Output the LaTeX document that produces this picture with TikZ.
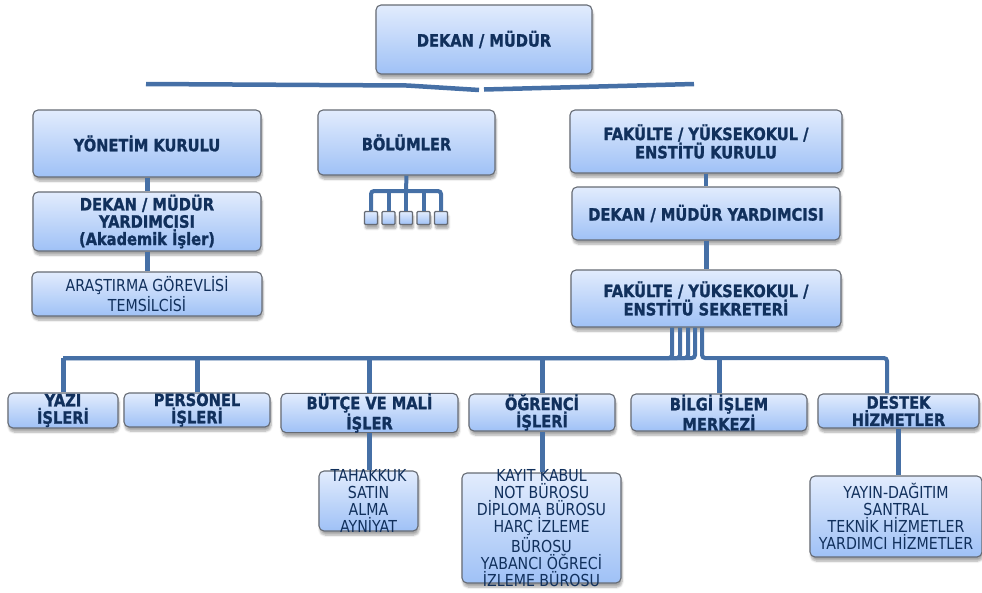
\documentclass[tikz,border=0pt]{standalone}
\usepackage{fontspec}
\setmainfont{DejaVu Sans}[FakeStretch=0.86, BoldFeatures={FakeBold=1.3}]
\usetikzlibrary{calc,shapes,positioning,shadows.blur}
\definecolor{boxtop}{HTML}{E2ECFD}
\definecolor{boxbot}{HTML}{9FC1F6}
\definecolor{boxline}{HTML}{666B74}
\definecolor{txt}{HTML}{11305C}
\definecolor{linec}{HTML}{4670A6}

\begin{document}
\begin{tikzpicture}[x=1pt,y=-1pt]

    \tikzstyle{ubox} = [draw=boxline, line width=1.1pt, rounded corners=5pt, top color=boxtop, bottom color=boxbot, blur shadow={shadow xshift=1pt, shadow yshift=-4pt, shadow opacity=35, shadow blur steps=6}, text=txt, align=center, inner sep=0pt, font=\bfseries\fontsize{17}{17.3}\selectfont]
    \tikzstyle{lbox} = [ubox, font=\fontsize{16.5}{17}\selectfont]
    \tikzstyle{ltxt} = [text=txt, align=center, inner sep=0pt, font=\fontsize{16.5}{17.2}\selectfont]
    \tikzstyle{sq} = [ubox, minimum size=13pt, rounded corners=1pt]
    \tikzstyle{conn} = [draw=linec, line width=5pt]
    \tikzstyle{comb} = [draw=linec, line width=4pt]

    \useasboundingbox (0,0) rectangle (982,592);

    % top
    \node[ubox, minimum width=216pt, minimum height=69pt] (dekan) at (484,39.5) {DEKAN / MÜDÜR};
    \coordinate (barL) at (146,84);
    \coordinate (barM) at (407,85.5);
    \coordinate (barC) at (479,90);
    \coordinate (barD) at (484,89.5);
    \coordinate (barR) at (694,84);
    \draw[conn, line width=4.5pt] (barL) -- (barM) -- (barC);
    \draw[conn, line width=4.5pt] (barD) -- (barR);

    % left column
    \node[ubox, minimum width=228pt, minimum height=67pt] (yk) at (147,143.5) {YÖNETİM KURULU};
    \node[ubox, minimum width=228pt, minimum height=59pt] (dmya) at (147,221.5) {DEKAN / MÜDÜR\\YARDIMCISI\\(Akademik İşler)};
    \node[lbox, minimum width=230pt, minimum height=44pt] (arg) at (147,294) {ARAŞTIRMA GÖREVLİSİ\\TEMSİLCİSİ};
    \draw[conn] (yk) -- (dmya);
    \draw[conn] (dmya) -- (arg);

    % bolumler
    \node[ubox, minimum width=177pt, minimum height=65pt] (bolum) at (406.5,142.5) {BÖLÜMLER};
    \foreach \i/\x in {1/371,2/388.5,3/406,4/423.5,5/441}
      \node[sq] (b\i) at (\x,218) {};
    \coordinate (fork) at (406,191);
    \draw[comb] (bolum.south) -- (fork);
    \draw[comb, rounded corners=3pt] (b1.north) |- (fork) -| (b5.north);
    \foreach \i in {2,3,4}
      \draw[comb] (b\i.north) -- (b\i.north |- fork);

    % right column
    \node[ubox, minimum width=272pt, minimum height=63pt] (fkurul) at (706,141.5) {FAKÜLTE / YÜKSEKOKUL /\\ENSTİTÜ KURULU};
    \node[ubox, minimum width=268pt, minimum height=53pt] (dmyb) at (706,213.5) {DEKAN / MÜDÜR YARDIMCISI};
    \node[ubox, minimum width=270pt, minimum height=57pt] (sekreter) at (706,298.5) {FAKÜLTE / YÜKSEKOKUL /\\ENSTİTÜ SEKRETERİ};
    \draw[comb] (fkurul) -- (dmyb);
    \draw[conn] (dmyb) -- (sekreter);

    % birimler
    \node[ubox, minimum width=110pt, minimum height=35pt] (yazi) at (63,410.5) {YAZI\\İŞLERİ};
    \node[ubox, minimum width=146pt, minimum height=34pt] (personel) at (197,410) {PERSONEL\\İŞLERİ};
    \node[ubox, minimum width=177pt, minimum height=34pt] (butce) at (369.5,413) {BÜTÇE VE MALİ\\İŞLER};
    \node[ubox, minimum width=146pt, minimum height=37pt] (ogrenci) at (542,412.5) {ÖĞRENCİ\\İŞLERİ};
    \node[ubox, minimum width=176pt, minimum height=37pt] (bilgi) at (719,412.5) {BİLGİ İŞLEM\\MERKEZİ};
    \node[ubox, minimum width=161pt, minimum height=34pt] (destek) at (898.5,411) {DESTEK\\HİZMETLER};

    \coordinate (bus) at (0,358);
    \foreach \dx in {-34,-26,-18,-11}
      \draw[comb, rounded corners=3pt] ([xshift=\dx pt]sekreter.south) |- (yazi.north |- bus);
    \draw[comb, rounded corners=3pt] ([xshift=-4pt]sekreter.south) |- ([xshift=-11.5pt]destek.north |- bus) -- ([xshift=-11.5pt]destek.north);
    \foreach \n in {yazi,personel,butce,ogrenci,bilgi}
      \draw[conn] (\n.north) -- (\n.north |- bus);

    % alt birimler
    \node[ubox, minimum width=99pt, minimum height=60pt] (tahakkuk) at (368.5,501) {};
    \node[ltxt] (tahakkukt) at (tahakkuk) {TAHAKKUK\\SATIN\\ALMA\\AYNİYAT};
    \node[ubox, minimum width=159pt, minimum height=110pt] (burolar) at (541.5,528) {};
    \node[ltxt] (burolart) at (burolar) {KAYIT KABUL\\NOT BÜROSU\\DİPLOMA BÜROSU\\HARÇ İZLEME\\BÜROSU\\YABANCI ÖĞRECİ\\İZLEME BÜROSU};
    \node[ubox, minimum width=172pt, minimum height=81pt] (hizmet) at (896,516.5) {};
    \node[ltxt] (hizmett) at (hizmet) {YAYIN-DAĞITIM\\SANTRAL\\TEKNİK HİZMETLER\\YARDIMCI HİZMETLER};
    \draw[conn] (butce.south) -- (butce.south |- tahakkuk.north);
    \draw[conn] (ogrenci.south) -- (ogrenci.south |- burolar.north);
    \draw[conn] (destek.south) -- (destek.south |- hizmet.north);

  \end{tikzpicture}
\end{document}
